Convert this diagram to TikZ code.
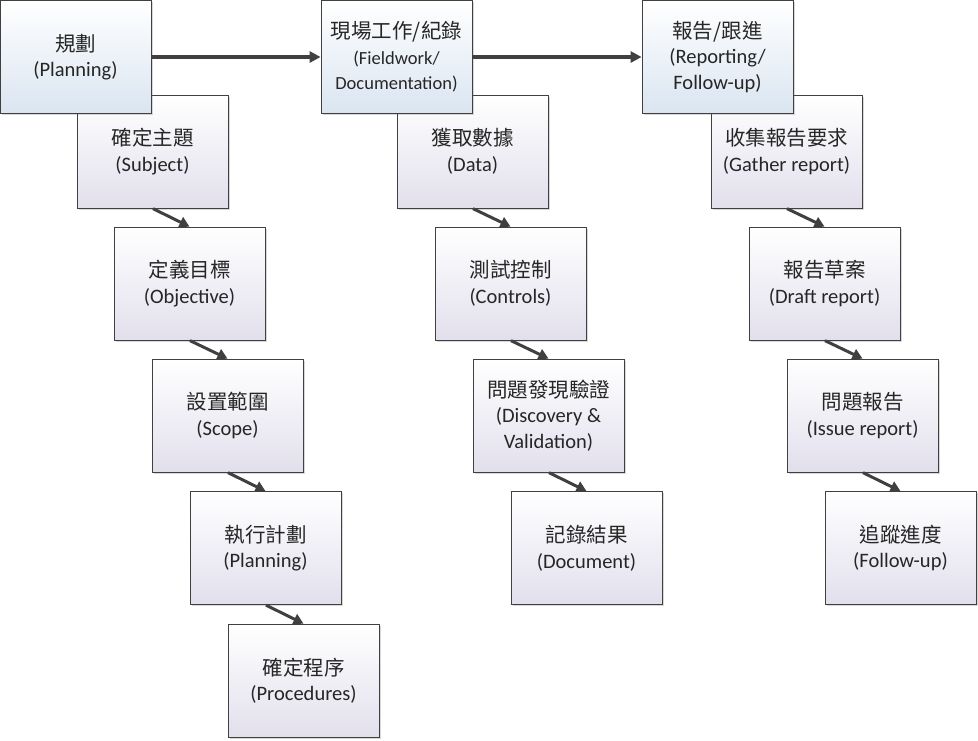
\documentclass[tikz,border=0pt]{standalone}
\usepackage{fontspec}
\setmainfont{Carlito}
\newfontfamily\cjk{Noto Sans CJK TC}
\usetikzlibrary{arrows.meta,shadows}
\definecolor{topbot}{HTML}{DAE5F1}
\definecolor{subbot}{HTML}{E2DFEC}
\definecolor{edge}{HTML}{404040}
\definecolor{txt}{HTML}{262626}
\tikzset{
  basebox/.style={draw=edge, line width=0.8pt, minimum width=151pt, minimum height=113pt,
    align=center, text=txt, inner sep=0pt,
    font=\fontsize{20.5}{25.5}\selectfont,
    drop shadow={shadow xshift=1.5pt, shadow yshift=-1.5pt, opacity=0.25, fill=black!60}},
  mainbox/.style={basebox, top color=white, bottom color=topbot},
  subbox/.style={basebox, top color=white, bottom color=subbot},
  flow/.style={draw=edge, line width=3.4pt, -{Triangle[length=11pt,width=11pt]}},
  step2/.style={draw=edge, line width=3pt, -{Triangle[length=10pt,width=11pt]}, shorten <=0.5pt}
}
\begin{document}
\begin{tikzpicture}[x=1pt,y=-1pt]
\useasboundingbox[fill=white] (0,0) rectangle (978,740);
% column 1
\node[subbox] (s1) at (152.5,151.5) {\cjk{確定主題}\\(Subject)};
\node[subbox] (o1) at (189.5,283.5) {\cjk{定義目標}\\(Objective)};
\node[subbox] (c1) at (227.5,415.5) {\cjk{設置範圍}\\(Scope)};
\node[subbox] (p1) at (265.5,548) {\cjk{執行計劃}\\(Planning)};
\node[subbox] (r1) at (303.5,680.5) {\cjk{確定程序}\\(Procedures)};
% column 2
\node[subbox] (s2) at (472.5,151.5) {\cjk{獲取數據}\\(Data)};
\node[subbox] (o2) at (510.5,283.5) {\cjk{測試控制}\\(Controls)};
\node[subbox] (c2) at (548.5,415.5) {\cjk{問題發現驗證}\\(Discovery \&\\Validation)};
\node[subbox] (p2) at (586.5,548) {\cjk{記錄結果}\\(Document)};
% column 3
\node[subbox] (s3) at (786.5,151.5) {\cjk{收集報告要求}\\(Gather report)};
\node[subbox] (o3) at (824.5,283.5) {\cjk{報告草案}\\(Draft report)};
\node[subbox] (c3) at (862.5,415.5) {\cjk{問題報告}\\(Issue report)};
\node[subbox] (p3) at (900.5,548) {\cjk{追蹤進度}\\(Follow-up)};
% top boxes
\node[mainbox] (m1) at (75.5,57) {\cjk{規劃}\\(Planning)};
\node[mainbox] (m2) at (396.5,57) {\cjk{現場工作}/\cjk{紀錄}\\{\fontsize{18.5}{25}\selectfont(Fieldwork/}\\{\fontsize{18.5}{25}\selectfont Documentation)}};
\node[mainbox] (m3) at (717.5,57) {\cjk{報告}/\cjk{跟進}\\(Reporting/\\Follow-up)};
% connectors
\draw[flow] (m1) -- (m2);
\draw[flow] (m2) -- (m3);
\draw[step2] (s1.south) -- (o1.north);
\draw[step2] (o1.south) -- (c1.north);
\draw[step2] (c1.south) -- (p1.north);
\draw[step2] (p1.south) -- (r1.north);
\draw[step2] (s2.south) -- (o2.north);
\draw[step2] (o2.south) -- (c2.north);
\draw[step2] (c2.south) -- (p2.north);
\draw[step2] (s3.south) -- (o3.north);
\draw[step2] (o3.south) -- (c3.north);
\draw[step2] (c3.south) -- (p3.north);
\end{tikzpicture}
\end{document}
